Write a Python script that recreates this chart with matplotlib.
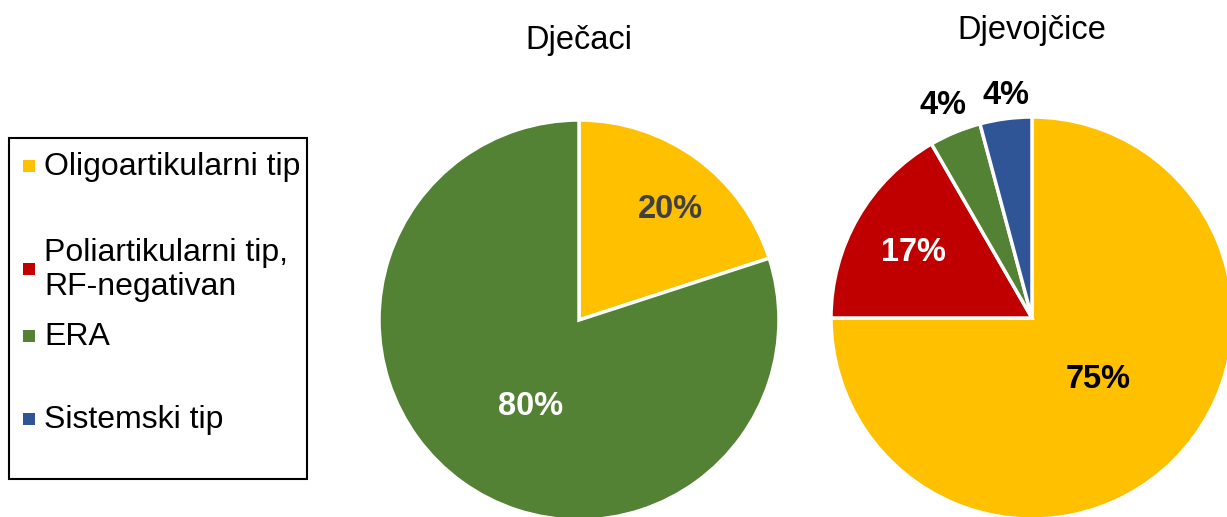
import numpy as np
import matplotlib
matplotlib.use("Agg")
import matplotlib.pyplot as plt
from matplotlib.patches import Rectangle

plt.rcParams['font.family'] = ['Liberation Sans', 'DejaVu Sans']

categories = ["Oligoartikularni tip", "Poliartikularni tip,\nRF-negativan", "ERA", "Sistemski tip"]
colors = ["#FFC000", "#C00000", "#548235", "#2F5597"]
boys = [1, 0, 4, 0]
girls = [18, 4, 1, 1]
boys_labels = ["20%", "", "80%", ""]
girls_labels = ["75%", "17%", "4%", "4%"]
titles = ["Dječaci", "Djevojčice"]

W, H = 1227, 517
fig = plt.figure(figsize=(W / 100, H / 100), dpi=100)


def draw_pie(cx, cy, r, values, labels, label_colors, dists, nudges, title, title_y):
    ax = fig.add_axes([(cx - r) / W, (H - cy - r) / H, 2 * r / W, 2 * r / H])
    idx = [i for i, v in enumerate(values) if v > 0]
    vals = [values[i] for i in idx]
    cols = [colors[i] for i in idx]
    wedges, _ = ax.pie(vals, colors=cols, startangle=90, counterclock=False,
                       wedgeprops=dict(edgecolor="white", linewidth=2.5),
                       radius=1.0)
    for w, i in zip(wedges, idx):
        mid = np.deg2rad((w.theta1 + w.theta2) / 2 + nudges[i])
        d = dists[i]
        ax.text(d * np.cos(mid), d * np.sin(mid) - 0.015, labels[i], ha="center", va="center",
                fontsize=23.5, fontweight="bold", color=label_colors[i])
    ax.set_xlim(-1, 1)
    ax.set_ylim(-1, 1)
    ax.set_aspect("equal")
    ax.axis("off")
    fig.text(cx / W, 1 - title_y / H, title, ha="center", va="center", fontsize=23.5, color="#000000")


draw_pie(579, 320, 200, boys, boys_labels,
         ["#404040", "white", "white", "white"],
         [0.73, 0.7, 0.48, 0.7], [-2.8, 0, 6, 0], titles[0], 41)
draw_pie(1032, 318, 201, girls, girls_labels,
         ["black", "white", "black", "black"],
         [0.44, 0.68, 1.16, 1.13], [3.6, 0, 0, -1], titles[1], 31)

# Legend box
fig.add_artist(Rectangle((9 / W, 1 - 479 / H), (307 - 9) / W, (479 - 138) / H,
                         transform=fig.transFigure, fill=False, edgecolor="black", linewidth=1.5))
legend_y = [167, 270, 337, 420]
for cat, col, y in zip(categories, colors, legend_y):
    fig.add_artist(Rectangle((23 / W, 1 - (y + 5) / H), 12 / W, 12 / H,
                             transform=fig.transFigure, facecolor=col, edgecolor="none"))
    fig.text(44 / W, 1 - y / H, cat, ha="left", va="center", fontsize=23,
             color="black", linespacing=1.2)

fig.savefig("out.png", dpi=100)
